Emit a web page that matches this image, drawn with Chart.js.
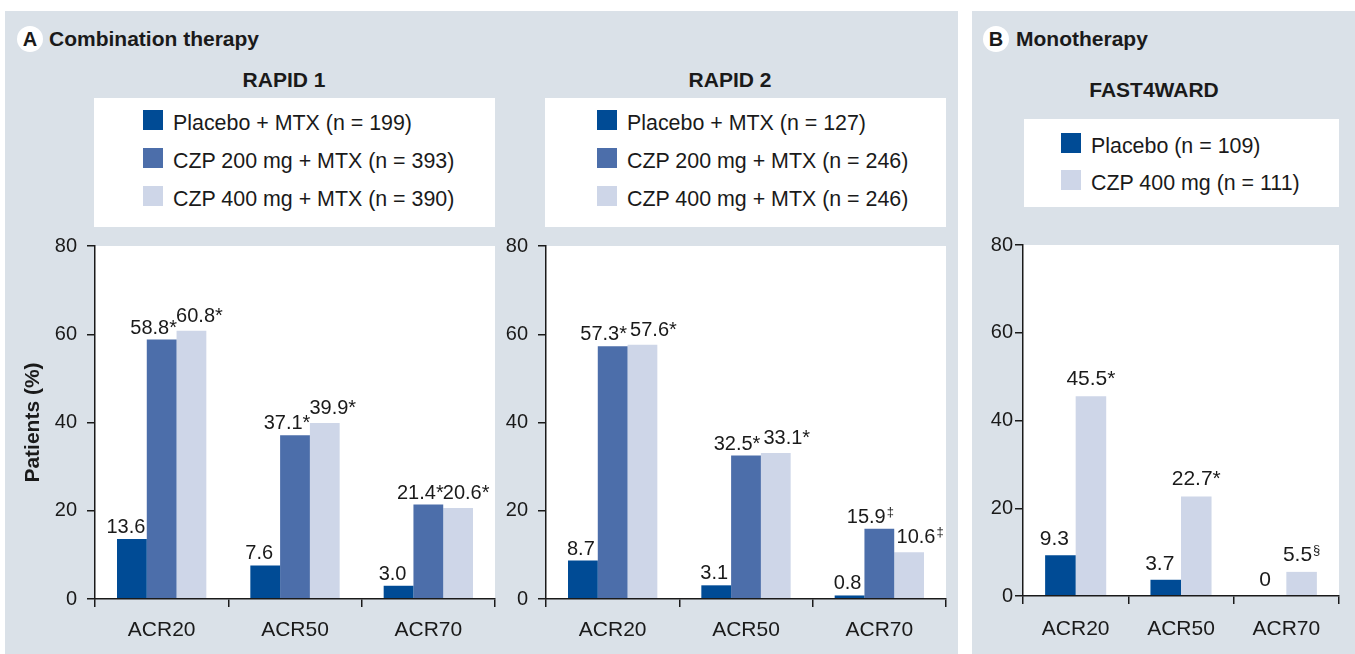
<!DOCTYPE html>
<html>
<head>
<meta charset="utf-8">
<script src="https://cdn.jsdelivr.net/npm/chart.js@4.4.1/dist/chart.umd.min.js"></script>
<style>
  html, body { margin: 0; padding: 0; background: #fff; }
  body { width: 1355px; height: 654px; position: relative; overflow: hidden;
         font-family: 'Liberation Sans', Arial, sans-serif; color: #1a1a1a; }
  .panel  { position: absolute; background: #dae1e8; }
  .badge  { position: absolute; width: 26px; height: 26px; border-radius: 50%; background: #fff;
            font-weight: bold; font-size: 20px; line-height: 27px; text-align: center; }
  .head   { position: absolute; font-weight: bold; font-size: 21px; line-height: 21px; white-space: nowrap; }
  .title  { position: absolute; font-weight: bold; font-size: 21px; line-height: 21px; white-space: nowrap;
            width: 240px; text-align: center; }
  .legend { position: absolute; background: #fff; }
  .sw     { position: absolute; width: 20px; height: 20px; }
  .lt     { position: absolute; font-size: 21.4px; line-height: 21px; white-space: nowrap; }
  canvas  { position: absolute; }
</style>
</head>
<body>

<div class="panel" style="left:5px; top:11px; width:953px; height:643px;"></div>
<div class="panel" style="left:972px; top:11px; width:383px; height:643px;"></div>

<div class="badge" style="left:17px; top:26px;">A</div>
<div class="head" style="left:49px; top:28px;">Combination therapy</div>
<div class="badge" style="left:983px; top:26px;">B</div>
<div class="head" style="left:1016px; top:28px;">Monotherapy</div>

<div class="title" style="left:164px; top:69px;">RAPID 1</div>
<div class="title" style="left:610px; top:69px;">RAPID 2</div>
<div class="title" style="left:1034px; top:79px;">FAST4WARD</div>

<div id="legend1" class="legend" style="left:94px; top:98px; width:401px; height:129px;"></div>
<div id="legend2" class="legend" style="left:545px; top:98px; width:401px; height:129px;"></div>
<div id="legend3" class="legend" style="left:1024px; top:119px; width:315px; height:88px;"></div>

<canvas id="chart1" width="500" height="430" style="left:0px; top:224px;"></canvas>
<canvas id="chart2" width="455" height="430" style="left:500px; top:224px;"></canvas>
<canvas id="chart3" width="383" height="424" style="left:972px; top:230px;"></canvas>

<script>
'use strict';

// ── DATA ──
const categories = ['ACR20', 'ACR50', 'ACR70'];
const yTicks     = [0, 20, 40, 60, 80];

// RAPID 1
const rapid1Names     = ['Placebo + MTX (n = 199)', 'CZP 200 mg + MTX (n = 393)', 'CZP 400 mg + MTX (n = 390)'];
const rapid1Placebo   = [13.6, 7.6, 3.0];
const rapid1Czp200    = [58.8, 37.1, 21.4];
const rapid1Czp400    = [60.8, 39.9, 20.6];
const rapid1Czp200Sig = ['*', '*', '*'];
const rapid1Czp400Sig = ['*', '*', '*'];

// RAPID 2
const rapid2Names     = ['Placebo + MTX (n = 127)', 'CZP 200 mg + MTX (n = 246)', 'CZP 400 mg + MTX (n = 246)'];
const rapid2Placebo   = [8.7, 3.1, 0.8];
const rapid2Czp200    = [57.3, 32.5, 15.9];
const rapid2Czp400    = [57.6, 33.1, 10.6];
const rapid2Czp200Sig = ['*', '*', '‡'];
const rapid2Czp400Sig = ['*', '*', '‡'];

// FAST4WARD
const fastNames     = ['Placebo (n = 109)', 'CZP 400 mg (n = 111)'];
const fastPlacebo   = [9.3, 3.7, 0];
const fastCzp400    = [45.5, 22.7, 5.5];
const fastCzp400Sig = ['*', '*', '§'];

// ── STYLE ──
const COLORS = { placebo: '#004b95', czp200: '#4c6eaa', czp400: '#ced6e8' };
const INK    = '#1a1a1a';
const FAMILY = "'Liberation Sans', Arial, sans-serif";

function fmt(v) {
  return v === 0 ? '0' : v.toFixed(1);
}

// ── PLUGINS ──
const plotBg = {
  id: 'plotBg',
  beforeDraw(chart) {
    const a = chart.chartArea, ctx = chart.ctx;
    ctx.save();
    ctx.fillStyle = '#fff';
    ctx.fillRect(a.left, a.top, a.right - a.left, a.bottom - a.top);
    ctx.restore();
  }
};

const barLabels = {
  id: 'barLabels',
  afterDatasetsDraw(chart, args, opts) {
    const ctx = chart.ctx;
    ctx.save();
    ctx.fillStyle = INK;
    ctx.textAlign = 'left';
    ctx.textBaseline = 'alphabetic';
    chart.data.datasets.forEach((ds, di) => {
      const meta = chart.getDatasetMeta(di);
      meta.data.forEach((bar, i) => {
        const sig   = (ds.sig && ds.sig[i]) || '';
        const small = sig === '‡' || sig === '§';
        const main  = fmt(ds.data[i]) + (small ? '' : sig);
        ctx.font = opts.size + 'px ' + FAMILY;
        const wMain = ctx.measureText(main).width;
        ctx.font = opts.supSize + 'px ' + FAMILY;
        const wSup = small ? ctx.measureText(sig).width + 1 : 0;
        const x = bar.x + opts.dx[di] - (wMain + wSup) / 2;
        const y = bar.y - opts.dy[di];
        ctx.font = opts.size + 'px ' + FAMILY;
        ctx.fillText(main, x, y);
        if (small) {
          ctx.font = opts.supSize + 'px ' + FAMILY;
          ctx.fillText(sig, x + wMain + 1, y - 7);
        }
      });
    });
    ctx.restore();
  }
};

// ── LEGENDS (html) ──
function buildLegend(id, names, colors, sx, sy0, step) {
  const box = document.getElementById(id);
  names.forEach((name, i) => {
    const sw = document.createElement('div');
    sw.className = 'sw';
    sw.style.left = sx + 'px';
    sw.style.top = (sy0 + i * step) + 'px';
    sw.style.background = colors[i];
    box.appendChild(sw);
    const t = document.createElement('div');
    t.className = 'lt';
    t.style.left = (sx + 30) + 'px';
    t.style.top = (sy0 + i * step + 3) + 'px';
    t.textContent = name;
    box.appendChild(t);
  });
}

buildLegend('legend1', rapid1Names, [COLORS.placebo, COLORS.czp200, COLORS.czp400], 49, 12, 38);
buildLegend('legend2', rapid2Names, [COLORS.placebo, COLORS.czp200, COLORS.czp400], 52, 12, 38);
buildLegend('legend3', fastNames, [COLORS.placebo, COLORS.czp400], 37, 14, 37);

// ── CHART FACTORY ──
function makeChart(id, datasets, o) {
  const ctx = document.getElementById(id).getContext('2d');
  return new Chart(ctx, {
    type: 'bar',
    data: {
      labels: categories,
      datasets: datasets.map(d => ({
        label: d.label,
        data: d.data,
        sig: d.sig,
        backgroundColor: d.color,
        borderWidth: 0,
        barPercentage: 1,
        categoryPercentage: o.catPct,
      })),
    },
    options: {
      responsive: false,
      animation: false,
      events: [],
      layout: { padding: o.pad },
      plugins: {
        legend: { display: false },
        tooltip: { enabled: false },
        barLabels: o.labels,
      },
      scales: {
        x: {
          afterFit: s => { s.height = o.xHeight; },
          grid:   { drawOnChartArea: false, drawTicks: true, tickLength: 8, color: INK, lineWidth: 1.5 },
          border: { display: true, color: INK, width: 1.5, z: 1 },
          ticks:  { color: INK, padding: o.xPad, font: { family: FAMILY, size: 21 } },
        },
        y: {
          min: 0,
          max: 80,
          afterFit: s => { s.width = o.yWidth; },
          afterBuildTicks: s => { s.ticks = yTicks.map(v => ({ value: v })); },
          grid:   { drawOnChartArea: false, drawTicks: true, tickLength: 8, color: INK, lineWidth: 1.5 },
          border: { display: true, color: INK, width: 1.5, z: 1 },
          ticks:  { color: INK, padding: o.yPad, font: { family: FAMILY, size: 20 } },
          title:  o.yTitle ? {
            display: true,
            text: 'Patients (%)',
            color: INK,
            font: { family: FAMILY, size: 21, weight: 'bold' },
            padding: { top: 21, bottom: 0 },
          } : { display: false },
        },
      },
    },
    plugins: [plotBg, barLabels],
  });
}

// ── INIT ──
makeChart('chart1', [
  { label: rapid1Names[0], data: rapid1Placebo, color: COLORS.placebo },
  { label: rapid1Names[1], data: rapid1Czp200, sig: rapid1Czp200Sig, color: COLORS.czp200 },
  { label: rapid1Names[2], data: rapid1Czp400, sig: rapid1Czp400Sig, color: COLORS.czp400 },
], {
  pad: { top: 22, right: 5, left: 0, bottom: 0 },
  yWidth: 95, xHeight: 55, xPad: 11, yPad: 10, catPct: 0.67, yTitle: true,
  labels: { size: 20, supSize: 13, dx: [-6, -8, 8], dy: [6, 6, 9] },
});

makeChart('chart2', [
  { label: rapid2Names[0], data: rapid2Placebo, color: COLORS.placebo },
  { label: rapid2Names[1], data: rapid2Czp200, sig: rapid2Czp200Sig, color: COLORS.czp200 },
  { label: rapid2Names[2], data: rapid2Czp400, sig: rapid2Czp400Sig, color: COLORS.czp400 },
], {
  pad: { top: 22, right: 9, left: 0, bottom: 0 },
  yWidth: 46, xHeight: 55, xPad: 11, yPad: 10, catPct: 0.67, yTitle: false,
  labels: { size: 20, supSize: 13, dx: [-2, -9, 11], dy: [6, 6, 9] },
});

makeChart('chart3', [
  { label: fastNames[0], data: fastPlacebo, color: COLORS.placebo },
  { label: fastNames[1], data: fastCzp400, sig: fastCzp400Sig, color: COLORS.czp400 },
], {
  pad: { top: 15, right: 16, left: 0, bottom: 0 },
  yWidth: 51, xHeight: 58, xPad: 13, yPad: 2, catPct: 0.58, yTitle: false,
  labels: { size: 21, supSize: 13, dx: [-6, 0], dy: [10, 11] },
});
</script>
</body>
</html>
